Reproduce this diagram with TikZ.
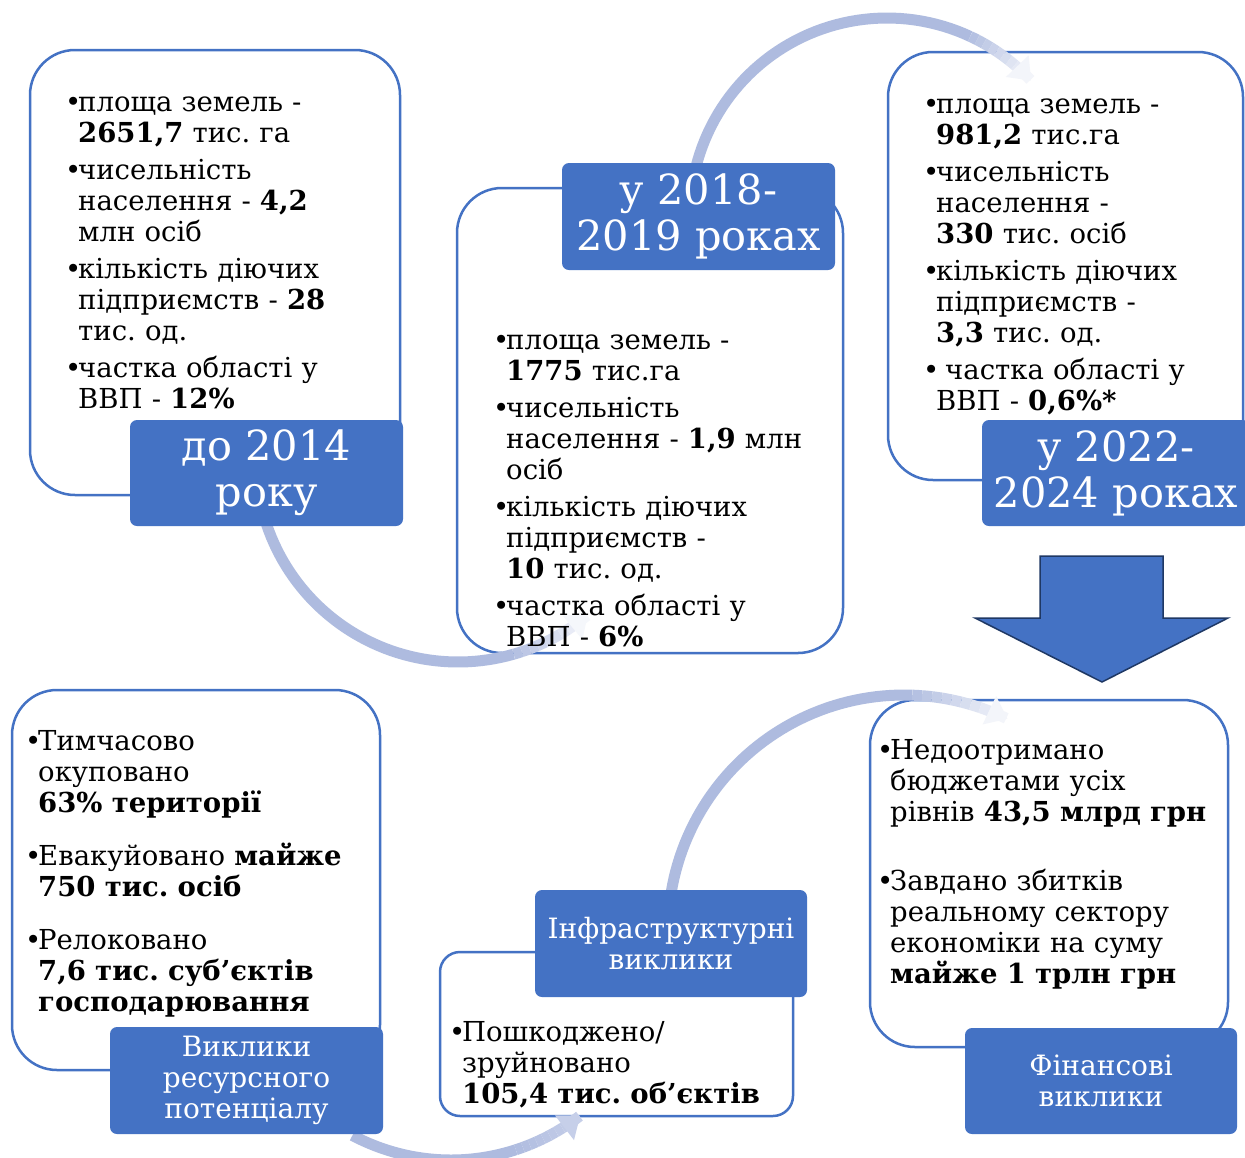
\documentclass[tikz,border=0pt]{standalone}
\usepackage{fontspec}
\setmainfont{DejaVu Serif}
\usetikzlibrary{arrows.meta}
\frenchspacing
\definecolor{acc}{HTML}{4472C4}
\definecolor{arcc}{HTML}{AEBBDF}
\definecolor{navy}{HTML}{1F3864}
\newlength\bulw
\setlength\bulw{11pt}
\newcommand\bi[1]{\hangindent=\bulw\hangafter=1\noindent\makebox[\bulw][l]{\kern-2pt•}#1\par}
\newcommand\nl{\newline}
\newcommand\flowarc[7]{%
  \draw[arcline] plot[domain=0:1,samples=50] ({#1+#3*cos(#4+(#5-#4)*\x)},{#2+#3*sin(#4+(#5-#4)*\x)});
  \foreach \k in {1,...,9}{%
    \pgfmathsetmacro\sa{#5+(#6-#5)*(\k-1)/10}%
    \pgfmathsetmacro\sb{#5+(#6-#5)*\k/10}%
    \pgfmathtruncatemacro\pc{100-(100-#7)*\k/10}%
    \draw[arcline,draw=arcc!\pc!white] plot[domain=0:1,samples=4] ({#1+#3*cos(\sa+(\sb-\sa)*\x)},{#2+#3*sin(\sa+(\sb-\sa)*\x)});
  }
  \pgfmathsetmacro\sa{#5+(#6-#5)*9/10}%
  \draw[arcline,draw=arcc!#7!white,-{Triangle[width=30pt,length=20pt]}] plot[domain=0:1,samples=8] ({#1+#3*cos(\sa+(#6-\sa)*\x)},{#2+#3*sin(\sa+(#6-\sa)*\x)});
}
\begin{document}
\begin{tikzpicture}[x=1pt,y=-1pt,
  box/.style={draw=acc,line width=2.5pt,fill=white,rounded corners=45pt,inner sep=0pt},
  lbl/.style={fill=acc,rounded corners=7pt,text=white,align=center,inner sep=0pt},
  body/.style={anchor=base west,inner sep=0pt,text width=#1,align=left,font=\fontsize{27.5}{31}\selectfont},
  arcline/.style={line width=11pt,draw=arcc},
  bigfont/.style={font=\fontsize{41.5}{46}\selectfont},
  smallfont/.style={font=\fontsize{28}{31}\selectfont}]
\useasboundingbox (0,0) rectangle (1245,1157);
\fill[white] (0,0) rectangle (1245,1157);

% white boxes
\node[box,minimum width=370pt,minimum height=445pt] (b1) at (215,272.5) {};
\node[box,minimum width=386pt,minimum height=465pt] (b2) at (650,420.5) {};
\node[box,minimum width=355pt,minimum height=428pt] (b3) at (1065.5,266) {};
\node[box,minimum width=368pt,minimum height=380pt] (b4) at (196,880) {};
\node[box,rounded corners=20pt,minimum width=353pt,minimum height=164pt] (b5) at (616.5,1034) {};
\node[box,minimum width=358pt,minimum height=347pt] (b6) at (1049,873.5) {};

% big down arrow
\draw[fill=acc,draw=navy,line width=1.5pt] (1040,556) -- (1163,556) -- (1163,618) -- (1228,618)
  -- (1102,682) -- (975,618) -- (1040,618) -- cycle;

% curved flow arrows
\flowarc{458}{460}{202}{165}{74}{50}{12}
\flowarc{887}{215}{197}{192}{295}{317}{15}
\flowarc{904}{931}{236}{186}{272}{296}{15}
\flowarc{451}{950}{210}{118}{72}{52}{70}

% labels
\node[lbl,bigfont,minimum width=273pt,minimum height=106pt] (l1) at (266.5,473) {до 2014\\року};
\node[lbl,bigfont,minimum width=273pt,minimum height=107pt] (l2) at (698.5,216.5) {у 2018-\\2019 роках};
\node[lbl,bigfont,minimum width=268pt,minimum height=106pt] (l3) at (1116,473) {у 2022-\\2024 роках};
\node[lbl,smallfont,minimum width=273pt,minimum height=107pt] (l4) at (246.5,1080.5) {Виклики\\ресурсного\\потенціалу};
\node[lbl,smallfont,minimum width=272pt,minimum height=107pt] (l5) at (671,943.5) {Інфраструктурні\\виклики};
\node[lbl,smallfont,minimum width=272pt,minimum height=106pt] (l6) at (1101,1081) {Фінансові\\виклики};

% texts
\node[body=328pt] (t1) at (67,111) {\setlength\parskip{6pt}%
\bi{площа земель -\nl\textbf{2651,7} тис. га}%
\bi{чисельність\nl населення - \textbf{4,2}\nl млн осіб}%
\bi{кількість діючих\nl підприємств - \textbf{28}\nl тис. од.}%
\bi{частка області у\nl ВВП - \textbf{12\%}}};

\node[body=342pt] (t2) at (495,349) {\setlength\parskip{6pt}%
\bi{площа земель -\nl\textbf{1775} тис.га}%
\bi{чисельність\nl населення - \textbf{1,9} млн\nl осіб}%
\bi{кількість діючих\nl підприємств -\nl\textbf{10} тис. од.}%
\bi{частка області у\nl ВВП - \textbf{6\%}}};

\node[body=315pt] (t3) at (925,113) {\setlength\parskip{6pt}%
\bi{площа земель -\nl\textbf{981,2} тис.га}%
\bi{чисельність\nl населення -\nl\textbf{330} тис. осіб}%
\bi{кількість діючих\nl підприємств -\nl\textbf{3,3} тис. од.}%
\bi{\hspace{9pt}частка області у\nl ВВП - \textbf{0,6\%*}}};

\node[body=350pt] (t4) at (27,750) {\setlength\parskip{22pt}%
\bi{Тимчасово\nl окуповано\nl\textbf{63\% території}}%
\bi{Евакуйовано \textbf{майже}\nl\textbf{750 тис. осіб}}%
\bi{Релоковано\nl\textbf{7,6 тис. суб’єктів}\nl\textbf{господарювання}}};

\node[body=340pt] (t5) at (451,1041) {%
\bi{Пошкоджено/\nl зруйновано\nl\textbf{105,4 тис. об’єктів}}};

\node[body=345pt] (t6) at (879,759) {\setlength\parskip{38pt}%
\bi{Недоотримано\nl бюджетами усіх\nl рівнів \textbf{43,5 млрд грн}}%
\bi{Завдано збитків\nl реальному сектору\nl економіки на суму\nl\textbf{майже 1 трлн грн}}};
\end{tikzpicture}
\end{document}
